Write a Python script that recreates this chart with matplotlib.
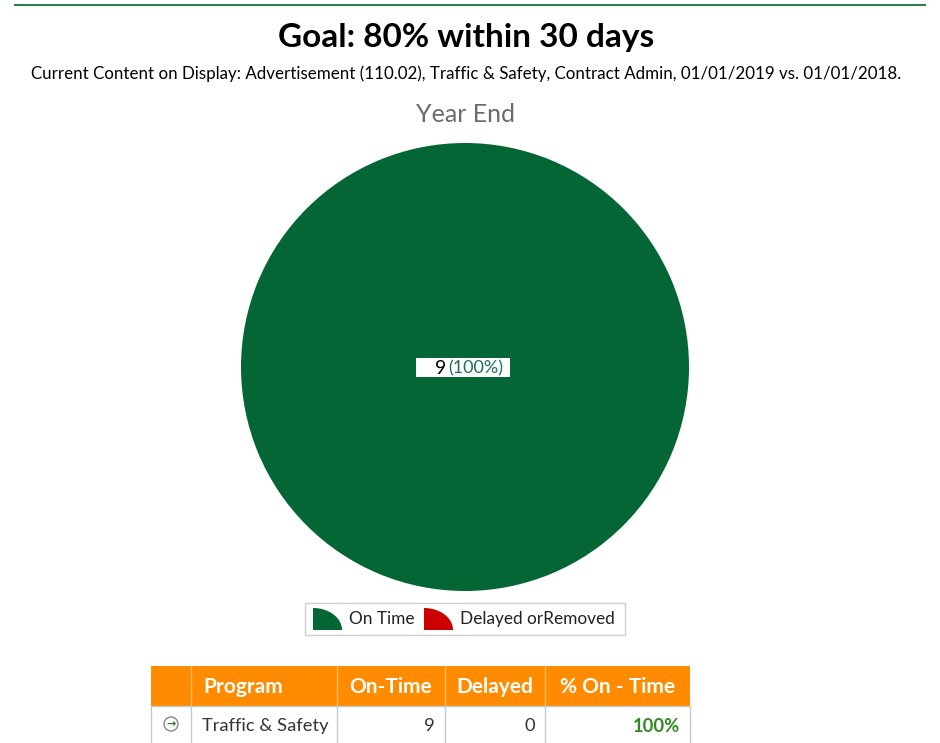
import numpy as np
import matplotlib.pyplot as plt
from matplotlib.patches import Rectangle, Circle, Polygon

plt.rcParams["font.family"] = ["Lato", "DejaVu Sans"]

title = "Goal: 80% within 30 days"
subtitle = ("Current Content on Display: Advertisement (110.02), Traffic & Safety, "
            "Contract Admin, 01/01/2019 vs. 01/01/2018.")
chart_title = "Year End"

categories = ["On Time", "Delayed orRemoved"]
counts = [9, 0]
colors = ["#046634", "#CC0000"]

table_cols = ["Program", "On-Time", "Delayed", "% On - Time"]
programs = ["Traffic & Safety"]
on_time = [9]
delayed = [0]

W, H = 940, 743
fig = plt.figure(figsize=(W / 100, H / 100), dpi=100)

# pie
cx, cy, r = 465, 367, 224
pax = fig.add_axes([(cx - r) / W, (H - cy - r) / H, 2 * r / W, 2 * r / H])
pax.pie(counts, colors=colors, startangle=90, counterclock=False,
        wedgeprops=dict(linewidth=0))
pax.set_xlim(-1, 1)
pax.set_ylim(-1, 1)
pax.set_aspect("equal")
pax.axis("off")

# overlay in pixel units for all the text, legend and table
bg = fig.add_axes([0, 0, 1, 1])
bg.set_zorder(3)
bg.patch.set_visible(False)
bg.set_xlim(0, W)
bg.set_ylim(0, H)
bg.axis("off")


def Y(py):
    # pixel row (from top) -> axes y
    return H - py


# top rule
bg.plot([15, 925], [Y(5), Y(5)], color="#2E7D4F", lw=1.5)

bg.text(466, Y(38), title, ha="center", va="center", fontsize=24,
        fontweight="bold", color="black")
bg.text(466, Y(74), subtitle, ha="center", va="center", fontsize=12.2,
        color="black")
bg.text(466, Y(115), chart_title, ha="center", va="center", fontsize=18,
        color="#6B6B6B")

total = sum(counts)
pct = 100 * counts[0] / total
bg.add_patch(Rectangle((416, Y(377)), 94, 19, facecolor="white",
                       edgecolor="none", zorder=5))
bg.text(446, Y(368), f"{counts[0]}", ha="right", va="center", fontsize=14,
        color="black", zorder=6)
bg.text(448, Y(368), f"({pct:.0f}%)", ha="left", va="center", fontsize=13,
        color="#1F6E5C", zorder=6)

# legend
bg.add_patch(Rectangle((305, Y(635)), 320, 32, facecolor="white",
                       edgecolor="#D0D0D0", lw=1))
leg_x = [313, 424]
t = np.linspace(0, np.pi / 2, 30)
for i, (lab, col) in enumerate(zip(categories, colors)):
    x0 = leg_x[i]
    pts = [(x0, Y(630))] + [(x0 + 29 * np.cos(a), Y(630) + 22 * np.sin(a)) for a in t]
    bg.add_patch(Polygon(pts, closed=True, facecolor=col, edgecolor="none"))
    bg.text(x0 + 36, Y(619), lab, ha="left", va="center", fontsize=12.4,
            color="#222222")

# table
col_x = [151, 191, 337, 445, 545, 690]
head_top, head_bot, row_bot = 666, 706, 745
orange = "#FF8C00"
bg.add_patch(Rectangle((col_x[0], Y(head_bot)), col_x[-1] - col_x[0],
                       head_bot - head_top, facecolor=orange, edgecolor="none"))
for x in col_x[1:-1]:
    bg.plot([x, x], [Y(head_top), Y(head_bot)], color="#FFC066", lw=1)
for i, name in enumerate(table_cols):
    if i == 0:
        bg.text(col_x[1] + 12, Y(687), name, ha="left", va="center",
                fontsize=15, fontweight="bold", color="white")
    else:
        bg.text((col_x[i + 1] + col_x[i + 2]) / 2, Y(687), name, ha="center",
                va="center", fontsize=15, fontweight="bold", color="white")

# body grid
for x in col_x:
    bg.plot([x, x], [Y(head_bot), Y(row_bot)], color="#C8C8C8", lw=1)
bg.plot([col_x[0], col_x[-1]], [Y(head_bot), Y(head_bot)], color="#C8C8C8", lw=1)

for j, prog in enumerate(programs):
    ry = 726 + j * 38
    bg.add_patch(Circle((171, Y(ry - 2)), 7, facecolor="white",
                        edgecolor="#888888", lw=1))
    bg.text(171, Y(ry - 2), "\u2192", ha="center", va="center", fontsize=8,
            fontweight="bold", color="#1E7A2E", family="DejaVu Sans")
    bg.text(col_x[1] + 11, Y(ry), prog, ha="left", va="center", fontsize=13.2,
            color="#333333")
    bg.text(col_x[3] - 10, Y(ry), f"{on_time[j]}", ha="right", va="center",
            fontsize=13.2, color="#333333")
    bg.text(col_x[4] - 10, Y(ry), f"{delayed[j]}", ha="right", va="center",
            fontsize=13.2, color="#333333")
    share = 100 * on_time[j] / (on_time[j] + delayed[j])
    bg.text(col_x[5] - 10, Y(ry), f"{share:.0f}%", ha="right", va="center",
            fontsize=13.2, fontweight="bold", color="#2E8B22")

fig.savefig("out.png", dpi=100)
